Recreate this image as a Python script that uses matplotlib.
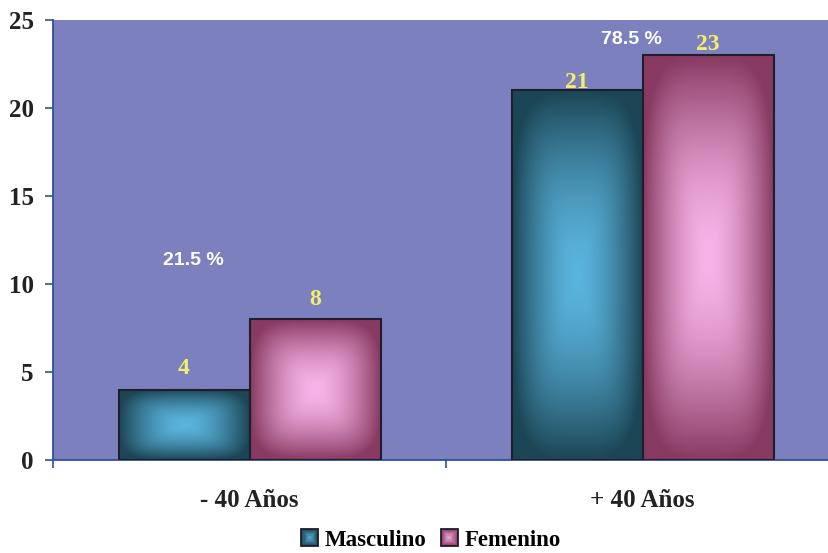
import matplotlib.pyplot as plt
import matplotlib.patches as mpatches
import matplotlib.colors as mcolors
from matplotlib.legend_handler import HandlerBase
import numpy as np

# Pacientes por grupo de edad y sexo
grupos = ['- 40 Años', '+ 40 Años']
masculino = [4, 21]
femenino = [8, 23]
porcentajes = ['21.5 %', '78.5 %']
series = ['Masculino', 'Femenino']

# colores (borde oscuro, centro claro) para el degradado de cada serie
colores = {
    'Masculino': ('#1c4655', '#5ab4de'),
    'Femenino': ('#883a62', '#f8b4e8'),
}
fondo = '#7d80be'

# separación (en puntos) entre cada etiqueta y su barra
sep_masc = [11, 2]
sep_fem = [10, 3.5]

plt.rcParams['font.family'] = ['Liberation Serif', 'DejaVu Serif']


def box_gradient(dark, light, n=160):
    """Degradado rectangular suave desde el centro hacia los bordes."""
    yy, xx = np.mgrid[-1:1:n * 1j, -1:1:n * 1j]
    d = (np.abs(xx) ** 4 + np.abs(yy) ** 4) ** 0.25
    d = np.clip(d, 0, 1) ** 1.6
    c0 = np.array(mcolors.to_rgb(light))
    c1 = np.array(mcolors.to_rgb(dark))
    return c0 * (1 - d[..., None]) + c1 * d[..., None]


def gradient_bar(ax, x, h, w, serie):
    dark, light = colores[serie]
    img = box_gradient(dark, light)
    im = ax.imshow(img, extent=(x - w / 2, x + w / 2, 0, h), aspect='auto',
                   origin='lower', zorder=2, interpolation='bilinear')
    rect = mpatches.Rectangle((x - w / 2, 0), w, h, facecolor='none',
                              edgecolor='#1e1e2c', linewidth=1.5, zorder=3)
    ax.add_patch(rect)
    im.set_clip_path(rect)


def etiqueta(ax, x, h, sep):
    ax.annotate(str(h), (x, h), xytext=(0, sep), textcoords='offset points',
                ha='center', va='baseline', color='#f2f06a', fontsize=17,
                fontweight='bold', zorder=4)


class GradientSquare(HandlerBase):
    def create_artists(self, legend, orig_handle, xdescent, ydescent,
                       width, height, fontsize, trans):
        dark, light = colores[orig_handle.get_label()]
        s = fontsize * 0.74
        x0 = width - s - xdescent
        y0 = -ydescent + (height - s) / 2
        arts = []
        for f in np.linspace(1, 0.1, 8):
            c = np.array(mcolors.to_rgb(light)) * (1 - f) + \
                np.array(mcolors.to_rgb(dark)) * f
            pad = s * 0.5 * (1 - f)
            arts.append(mpatches.Rectangle((x0 + pad, y0 + pad),
                                           s - 2 * pad, s - 2 * pad,
                                           facecolor=c, edgecolor='none',
                                           transform=trans))
        arts.append(mpatches.Rectangle((x0, y0), s, s, facecolor='none',
                                       edgecolor='#1e1e2c', linewidth=1.3,
                                       transform=trans))
        return arts


fig = plt.figure(figsize=(8.29, 5.53), dpi=100)
ax = fig.add_axes([53 / 829, 93 / 553, 786 / 829, 440 / 553])
ax.set_facecolor(fondo)

ancho = 1 / 3
x = np.arange(len(grupos))
for i in x:
    gradient_bar(ax, i - ancho / 2, masculino[i], ancho, 'Masculino')
    gradient_bar(ax, i + ancho / 2, femenino[i], ancho, 'Femenino')
    etiqueta(ax, i - ancho / 2, masculino[i], sep_masc[i])
    etiqueta(ax, i + ancho / 2, femenino[i], sep_fem[i])

# porcentaje por grupo
ax.text(-0.144, 11.35, porcentajes[0], ha='center', va='center',
        color='white', fontsize=14, fontweight='bold',
        family='Liberation Sans', zorder=4)
ax.text(0.971, 23.9, porcentajes[1], ha='center', va='center',
        color='white', fontsize=14, fontweight='bold',
        family='Liberation Sans', zorder=4)

ax.set_xlim(-0.5, 1.5)
ax.set_ylim(0, 25)
ax.set_yticks(range(0, 26, 5))
ax.set_xticks([-0.5, 0.5, 1.5])
ax.set_xticklabels([])
ax.set_xticks(x, minor=True)
ax.set_xticklabels(grupos, minor=True)
ax.tick_params(axis='x', which='minor', length=0, pad=21, labelsize=18)
ax.tick_params(axis='x', which='major', length=6, color='#2f4fa0', width=1.2)
ax.tick_params(axis='y', length=6, color='#2f4fa0', width=1.2, labelsize=18,
               pad=8)
for lbl in ax.get_yticklabels() + ax.get_xticklabels(minor=True):
    lbl.set_fontweight('bold')
    lbl.set_color('#222222')

for side in ['top', 'right']:
    ax.spines[side].set_visible(False)
for side in ['left', 'bottom']:
    ax.spines[side].set_color('#2f4fa0')
    ax.spines[side].set_linewidth(1.3)

handles = [mpatches.Patch(label=s) for s in series]
fig.legend(handles=handles, labels=series, loc='center',
           bbox_to_anchor=(431 / 829, 1 - 540 / 553), ncol=2, frameon=False,
           handler_map={mpatches.Patch: GradientSquare()},
           prop={'weight': 'bold', 'size': 16.5}, handlelength=0.75,
           handletextpad=0.3, columnspacing=0.6)

fig.savefig('out.png', dpi=100)
